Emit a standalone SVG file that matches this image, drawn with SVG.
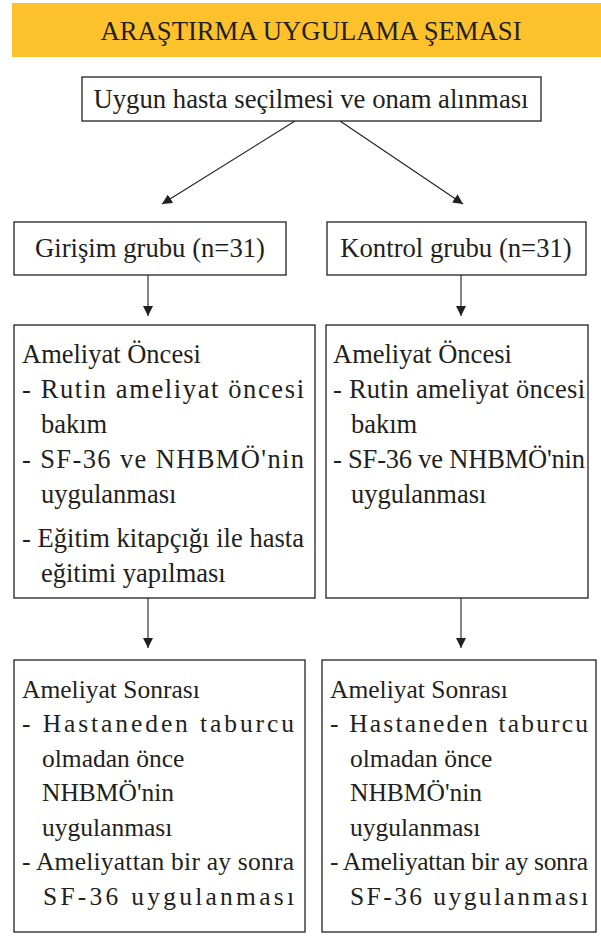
<svg xmlns="http://www.w3.org/2000/svg" width="601" height="947" viewBox="0 0 601 947">
<style>
text{font-family:"Liberation Serif","Times New Roman",serif;fill:#231f20;}
.t{font-size:26.7px;}
.b{font-size:26.5px;}
.s{font-size:25.5px;}
.box{fill:#fff;stroke:#231f20;stroke-width:1.3;}
.c{stroke:#231f20;stroke-width:1.1;fill:none;}
</style>
<defs>
<marker id="ah" viewBox="0 0 10 10" refX="10" refY="5" markerWidth="10" markerHeight="10" markerUnits="userSpaceOnUse" orient="auto">
<path d="M0,0 L10,5 L0,10 z" fill="#231f20"/>
</marker>
</defs>
<rect width="601" height="947" fill="#fff"/>
<g id="title">
<rect x="12" y="3" width="589" height="54" fill="#fdc22b"/>
<text class="t" x="311" y="40" text-anchor="middle">ARAŞTIRMA UYGULAMA ŞEMASI</text>
</g>
<g id="connectors">
<line class="c" x1="295" y1="121" x2="162" y2="204" marker-end="url(#ah)"/>
<line class="c" x1="340" y1="121" x2="463" y2="204" marker-end="url(#ah)"/>
<line class="c" x1="148" y1="275" x2="148" y2="316" marker-end="url(#ah)"/>
<line class="c" x1="461" y1="275" x2="461" y2="316" marker-end="url(#ah)"/>
<line class="c" x1="148" y1="598" x2="148" y2="648" marker-end="url(#ah)"/>
<line class="c" x1="461" y1="598" x2="461" y2="648" marker-end="url(#ah)"/>
</g>
<g id="start">
<rect class="box" x="82" y="77" width="459" height="44"/>
<text class="t" x="311" y="108" text-anchor="middle">Uygun hasta seçilmesi ve onam alınması</text>
</g>
<g id="girisim">
<rect class="box" x="14" y="222" width="272" height="53"/>
<text class="t" x="150" y="257" text-anchor="middle">Girişim grubu (n=31)</text>
</g>
<g id="kontrol">
<rect class="box" x="327" y="222" width="259" height="53"/>
<text class="t" x="456" y="257" text-anchor="middle">Kontrol grubu (n=31)</text>
</g>
<g id="girisim-oncesi">
<rect class="box" x="14" y="325" width="301" height="273"/>
<text class="b" x="22" y="363">Ameliyat Öncesi</text>
<text class="b" x="22" y="398" textLength="282" lengthAdjust="spacing">- Rutin ameliyat öncesi</text>
<text class="b" x="41" y="433">bakım</text>
<text class="b" x="22" y="468" textLength="282" lengthAdjust="spacing">- SF-36 ve NHBMÖ'nin</text>
<text class="b" x="41" y="503">uygulanması</text>
<text class="b" x="22" y="547" textLength="282" lengthAdjust="spacing">- Eğitim kitapçığı ile hasta</text>
<text class="b" x="41" y="582">eğitimi yapılması</text>
</g>
<g id="kontrol-oncesi">
<rect class="box" x="326" y="325" width="262" height="273"/>
<text class="b" x="333" y="363">Ameliyat Öncesi</text>
<text class="b" x="333" y="398" textLength="252" lengthAdjust="spacing">- Rutin ameliyat öncesi</text>
<text class="b" x="351" y="433">bakım</text>
<text class="b" x="333" y="468" textLength="252" lengthAdjust="spacing">- SF-36 ve NHBMÖ'nin</text>
<text class="b" x="351" y="503">uygulanması</text>
</g>
<g id="girisim-sonrasi">
<rect class="box" x="14" y="660" width="291" height="272"/>
<text class="s" x="22" y="698">Ameliyat Sonrası</text>
<text class="s" x="22" y="732" textLength="272" lengthAdjust="spacing">- Hastaneden taburcu</text>
<text class="s" x="42" y="767">olmadan önce</text>
<text class="s" x="42" y="801">NHBMÖ'nin</text>
<text class="s" x="42" y="836">uygulanması</text>
<text class="s" x="22" y="870" textLength="272" lengthAdjust="spacing">- Ameliyattan bir ay sonra</text>
<text class="s" x="43" y="905" textLength="251" lengthAdjust="spacing">SF-36 uygulanması</text>
</g>
<g id="kontrol-sonrasi">
<rect class="box" x="322" y="660" width="274" height="272"/>
<text class="s" x="330" y="698">Ameliyat Sonrası</text>
<text class="s" x="330" y="732" textLength="258" lengthAdjust="spacing">- Hastaneden taburcu</text>
<text class="s" x="350" y="767">olmadan önce</text>
<text class="s" x="350" y="801">NHBMÖ'nin</text>
<text class="s" x="350" y="836">uygulanması</text>
<text class="s" x="330" y="870" textLength="258" lengthAdjust="spacing">- Ameliyattan bir ay sonra</text>
<text class="s" x="350" y="905" textLength="238" lengthAdjust="spacing">SF-36 uygulanması</text>
</g>
</svg>
